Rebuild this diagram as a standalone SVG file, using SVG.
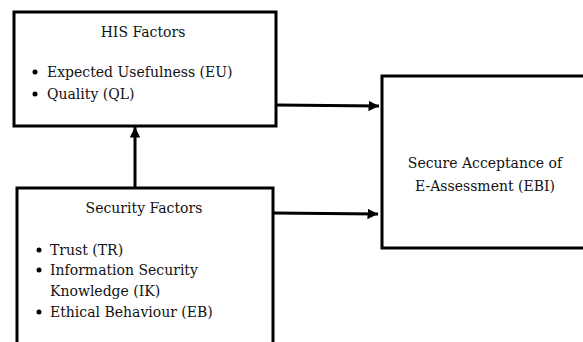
<svg xmlns="http://www.w3.org/2000/svg" width="583" height="342" viewBox="0 0 583 342">
<defs>
<style>
.box{fill:#fff;stroke:#000;stroke-width:3}
text{font-family:'DejaVu Serif',serif;font-size:14px;fill:#111}
.c{text-anchor:middle}
.edge{stroke:#000;stroke-width:3;fill:none}
</style>
<marker id="ah" viewBox="0 0 10 10" refX="10" refY="5" markerWidth="3.5" markerHeight="3.5" markerUnits="strokeWidth" orient="auto">
<path d="M0,0 L10,5 L0,10 Z" fill="#000"/>
</marker>
</defs>
<rect width="583" height="342" fill="#fff"/>
<g id="connectors">
<line class="edge" x1="276" y1="105" x2="379" y2="106" marker-end="url(#ah)"/>
<line class="edge" x1="273" y1="213" x2="378" y2="214" marker-end="url(#ah)"/>
<line class="edge" x1="135" y1="188" x2="135" y2="127" marker-end="url(#ah)"/>
</g>
<g id="his">
<rect class="box" x="14" y="12" width="262" height="114"/>
<text class="c" x="143" y="37">HIS Factors</text>
<circle cx="35" cy="72" r="2.5"/>
<text x="47" y="77">Expected Usefulness (EU)</text>
<circle cx="35" cy="94" r="2.5"/>
<text x="47" y="99">Quality (QL)</text>
</g>
<g id="security">
<rect class="box" x="17" y="188" width="256" height="170"/>
<text class="c" x="144" y="213">Security Factors</text>
<circle cx="39" cy="250" r="2.5"/>
<text x="50" y="255">Trust (TR)</text>
<circle cx="39" cy="270" r="2.5"/>
<text x="50" y="275">Information Security</text>
<text x="50" y="296">Knowledge (IK)</text>
<circle cx="39" cy="312" r="2.5"/>
<text x="50" y="317">Ethical Behaviour (EB)</text>
</g>
<g id="ebi">
<rect class="box" x="382" y="76" width="210" height="172"/>
<text class="c" x="485" y="168">Secure Acceptance of</text>
<text class="c" x="485" y="191">E-Assessment (EBI)</text>
</g>
</svg>
